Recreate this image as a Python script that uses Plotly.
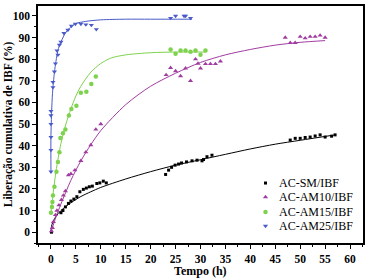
import plotly.graph_objects as go

# ---- data ----
sm_t = [0.1, 2, 2.4, 2.9, 3.5, 4, 4.6, 5.2, 5.8, 6.5, 7.1, 7.7, 8.3, 9.2, 9.8, 10.5, 11.1,
        23, 23.6, 24.2, 24.9, 25.6, 26.2, 27.2, 28.3, 29.3, 30.3, 30.6, 31.3, 32.3,
        48, 49, 50, 51, 52, 53, 54, 55, 56.3, 57]
sm_y = [0, 9, 10, 11.7, 13.3, 14.4, 15.3, 16.4, 18.7, 19.8, 20.4, 21, 21.3, 22.5, 22.8, 23.6, 22.8,
        26.7, 28.7, 30, 31, 31.5, 32, 32.5, 33, 33.3, 33, 33.6, 34.9, 35.6,
        42.6, 43.4, 43.4, 43.8, 44, 44.5, 45, 44, 44.4, 45]

am10_t = [0.1, 0.3, 0.5, 0.9, 1.2, 1.6, 2.1, 2.5, 2.9, 3.5, 4, 4.8, 6, 7, 8, 9, 10,
          23.1, 24, 25, 26, 27, 28, 29, 29.5, 30, 31, 32, 33, 34,
          47, 48, 49, 50, 51, 52, 53, 54, 55]
am10_y = [0.5, 2, 4.8, 8, 10, 12.5, 15, 17, 19, 26.4, 27, 28.7, 33, 37, 40.3, 47.5, 50,
          72.7, 76, 74.5, 72.2, 75.8, 70, 80, 78, 75.8, 77.8, 77.8, 77.8, 79,
          90, 87.6, 87.6, 90.4, 89.7, 90.4, 90.4, 91, 90]

am15_t = [0, 0.2, 0.3, 0.4, 0.7, 1.1, 1.4, 1.7, 1.9, 2.4, 2.9, 3.6, 4.1, 5.1, 6, 7.1, 8.1, 9,
          24, 25, 26, 27, 28, 29, 30, 31]
am15_y = [9, 11.7, 14, 17, 21, 28, 32.5, 37, 43.5, 45.7, 47.5, 54, 57, 58.5, 64.5, 65, 68.5, 72,
          84.5, 82.5, 84, 84, 83.5, 84, 82, 84]

am25_t = [0, 0, 0, 0, 0, 0, 0.4, 0.4, 0.7, 0.9, 1.2, 1.4, 1.7, 2, 2.6, 3.4, 4.1, 4.9, 6, 7, 8.1, 9.1,
          24, 25, 26.7, 27, 28]
am25_y = [28, 38, 44, 50, 54, 56, 67, 69.4, 74.2, 78, 84, 82, 86.6, 88, 92, 93.5, 95.4, 96.3, 96.3, 96, 95.8, 93.8,
          99, 100, 100, 100, 99]

# fitted curves
sm_ct = [0, 0.05, 0.2, 0.5, 1, 2, 4, 6, 8, 10, 15, 20, 25, 30, 35, 40, 45, 50, 57]
sm_cy = [0, 1.9, 3.5, 5.3, 7.3, 10, 13.6, 16.5, 18.7, 20.7, 24.6, 28, 31, 33.5, 36, 38.5, 40.7, 42.5, 45]

am10_ct = [0, 1, 2, 4, 6, 8, 10, 15, 20, 25, 30, 35, 40, 45, 50, 55]
am10_cy = [0, 7, 13, 24, 33, 40.5, 47, 59, 67.5, 73.5, 78.5, 82, 84.5, 86.5, 87.8, 88.6]

am15_ct = [0, 1, 2, 3, 4, 5, 6, 8, 10, 12, 15, 20, 25, 31]
am15_cy = [9, 28, 41, 50, 57, 63, 67.5, 74, 78, 80.5, 82, 83, 83.3, 83.3]

am25_ct = [0, 0, 0.3, 0.7, 1, 1.5, 2, 3, 4, 5, 7, 10, 15, 20, 28.3]
am25_cy = [28, 45, 64, 74, 79, 85, 88, 92.5, 95, 96.5, 97.5, 98.2, 98.5, 98.5, 98.5]

names = ["AC-SM/IBF", "AC-AM10/IBF", "AC-AM15/IBF", "AC-AM25/IBF"]
colors = ["#000000", "#a03ca0", "#7ed24e", "#4a5ac8"]
symbols = ["square", "triangle-up", "circle", "triangle-down"]
sizes = [3, 4.5, 4.5, 4.5]

# legend placement (paper fractions inside the plot area)
leg_marker_x = 0.70
leg_text_x = 0.735
leg_rows = [0.253, 0.194, 0.131, 0.072]

pts = [(sm_t, sm_y), (am10_t, am10_y), (am15_t, am15_y), (am25_t, am25_y)]
curves = [(sm_ct, sm_cy), (am10_ct, am10_cy), (am15_ct, am15_cy), (am25_ct, am25_cy)]

serif = "Liberation Serif"

fig = go.Figure()
for (ct, cy), c in zip(curves, colors):
    fig.add_trace(go.Scatter(x=ct, y=cy, mode="lines", line=dict(color=c, width=1, shape="spline", smoothing=0.8),
                             showlegend=False, hoverinfo="skip"))
for (t, y), n, c, s, sz in zip(pts, names, colors, symbols, sizes):
    fig.add_trace(go.Scatter(x=t, y=y, mode="markers", name=n, showlegend=False,
                             marker=dict(symbol=s, size=sz, color=c, line=dict(width=0))))

# manual legend: markers on an overlay axis, text as annotations
for n, c, s, sz, ry in zip(names, colors, symbols, sizes, leg_rows):
    fig.add_trace(go.Scatter(x=[leg_marker_x], y=[ry], xaxis="x2", yaxis="y2", mode="markers",
                             showlegend=False, hoverinfo="skip",
                             marker=dict(symbol=s, size=sz, color=c, line=dict(width=0))))
    fig.add_annotation(x=leg_text_x, y=ry, xref="x2", yref="y2", text=n, showarrow=False,
                       xanchor="left", yanchor="middle",
                       font=dict(family=serif, size=12, color="black"))

axis_common = dict(showline=True, linecolor="black", linewidth=1.5, mirror=True,
                   ticks="outside", ticklen=4, tickwidth=1.2, tickcolor="black",
                   showgrid=False, zeroline=False, automargin=False,
                   tickprefix="<b>", ticksuffix="</b>",
                   tickfont=dict(family=serif, size=11.5, color="black"))
fig.update_xaxes(range=[-2.6, 62.6], dtick=5, tick0=0,
                 minor=dict(dtick=2.5, ticks="outside", ticklen=2.5, tickcolor="black", tickwidth=1),
                 **axis_common)
fig.update_yaxes(range=[-5, 104.6], dtick=10, tick0=0,
                 minor=dict(dtick=5, ticks="outside", ticklen=2.5, tickcolor="black", tickwidth=1),
                 **axis_common)
fig.update_layout(
    xaxis2=dict(overlaying="x", range=[0, 1], visible=False, anchor="y2"),
    yaxis2=dict(overlaying="y", range=[0, 1], visible=False, anchor="x2"),
)
fig.add_annotation(x=-0.09, y=0.5, xref="paper", yref="paper", text="<b>Liberação cumulativa de IBF (%)</b>",
                   textangle=-90, showarrow=False, xanchor="center", yanchor="middle",
                   font=dict(family=serif, size=11.5, color="black"))
fig.add_annotation(x=0.5, y=-0.118, xref="paper", yref="paper", text="<b>Tempo (h)</b>",
                   showarrow=False, xanchor="center", yanchor="middle",
                   font=dict(family=serif, size=12, color="black"))
fig.update_layout(width=374, height=280, margin=dict(l=38, r=11, t=6, b=37),
                  paper_bgcolor="white", plot_bgcolor="white", showlegend=False)
fig.write_html("out.html", config={"displayModeBar": False},
               post_script="document.body.style.margin='0';")
